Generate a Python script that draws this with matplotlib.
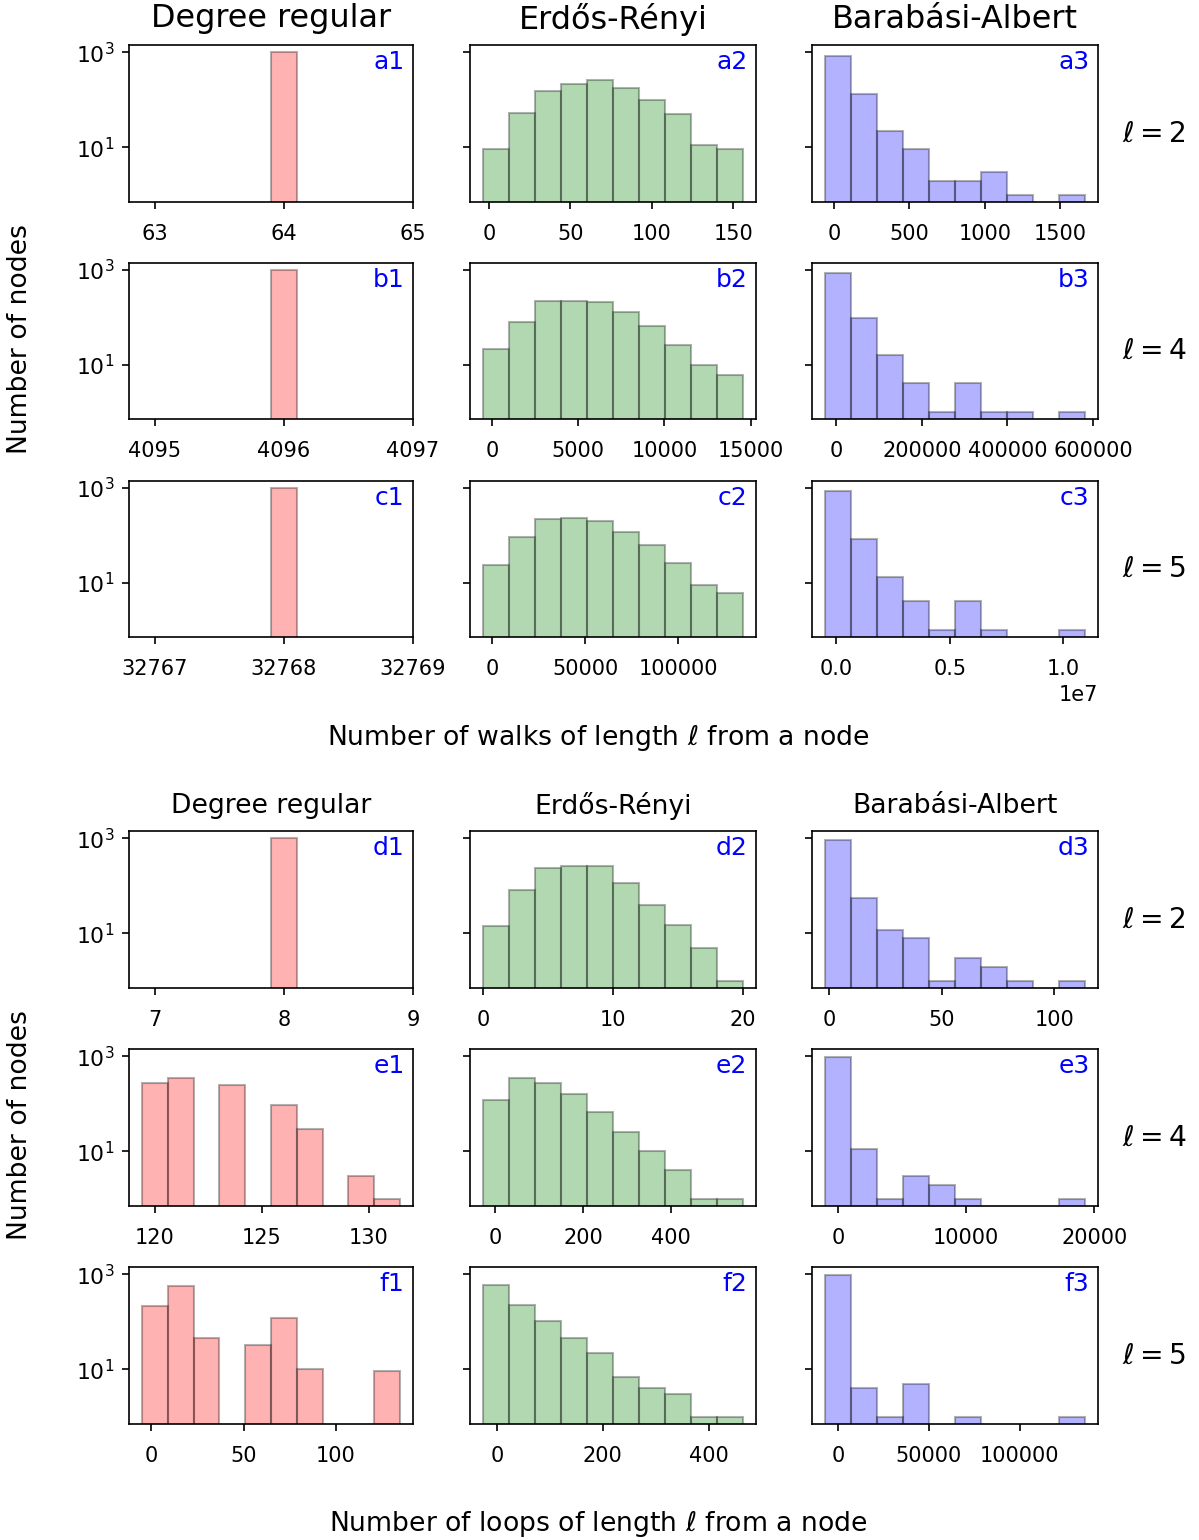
import matplotlib
matplotlib.use("Agg")
import matplotlib.pyplot as plt
from matplotlib.ticker import NullLocator, ScalarFormatter
import numpy as np

# ─── Data (counts per bin, 10 bins) ────────────────────────────────────────────
COLS = ["Degree regular", "Erdős-Rényi", "Barabási-Albert"]
ELLS = [2, 4, 5]

# degree regular, walks: every node has the same count
REG_WALKS = [64, 4096, 32768]
REG_LOOPS_L2 = 8
N_NODES = 1000

# bin ranges (first left edge, last right edge)
ER_WALK_RANGE = [(-3.7, 156), (-524, 14560), (-4690, 134660)]
ER_WALK_COUNTS = [
    [9, 52, 155, 219, 254, 174, 100, 50, 11, 9],
    [21, 78, 218, 218, 207, 133, 66, 26, 10, 6],
    [24, 93, 222, 237, 199, 120, 64, 26, 9, 6],
]
BA_WALK_RANGE = [(-60, 1664), (-25900, 581000), (-507000, 10970000)]
BA_WALK_COUNTS = [
    [849, 131, 22, 9, 2, 2, 3, 1, 0, 1],
    [870, 96, 16, 4, 1, 4, 1, 1, 0, 1],
    [880, 82, 13, 4, 1, 4, 1, 0, 0, 1],
]

REG_LOOP_RANGE = [(119.39, 131.46), (-5.0, 134.7)]
REG_LOOP_COUNTS = [
    [279, 344, 0, 248, 0, 96, 29, 0, 3, 1],
    [215, 570, 46, 0, 32, 117, 10, 0, 0, 9],
]
ER_LOOP_RANGE = [(0, 20), (-28, 565), (-26, 465)]
ER_LOOP_COUNTS = [
    [14, 80, 235, 255, 255, 112, 40, 15, 5, 1],
    [117, 344, 278, 162, 67, 25, 10, 4, 1, 1],
    [590, 230, 104, 46, 22, 7, 4, 3, 1, 1],
]
BA_LOOP_RANGE = [(-1.7, 113.6), (-1013, 19260), (-7150, 135800)]
BA_LOOP_COUNTS = [
    [921, 56, 12, 8, 1, 3, 2, 1, 0, 1],
    [980, 11, 1, 3, 2, 1, 0, 0, 0, 1],
    [975, 4, 1, 5, 0, 1, 0, 0, 0, 1],
]

# tick marks
XTICKS = {
    "a1": [63, 64, 65], "a2": [0, 50, 100, 150], "a3": [0, 500, 1000, 1500],
    "b1": [4095, 4096, 4097], "b2": [0, 5000, 10000, 15000], "b3": [0, 200000, 400000, 600000],
    "c1": [32767, 32768, 32769], "c2": [0, 50000, 100000], "c3": [0, 5e6, 1e7],
    "d1": [7, 8, 9], "d2": [0, 10, 20], "d3": [0, 50, 100],
    "e1": [120, 125, 130], "e2": [0, 200, 400], "e3": [0, 10000, 20000],
    "f1": [0, 50, 100], "f2": [0, 200, 400], "f3": [0, 50000, 100000],
}

COLORS = ["r", "g", "b"]

W, H = 1199, 1540
fig = plt.figure(figsize=(W / 150, H / 150), dpi=150)

# axes boxes in pixels
COL_X = [(129, 413), (470, 756), (812, 1098)]
ROW_Y = [(45, 202), (263, 419), (481, 637), (831, 988), (1049, 1206), (1267, 1424)]


def box(c, r):
    x0, x1 = COL_X[c]
    y0, y1 = ROW_Y[r]
    return [x0 / W, 1 - y1 / H, (x1 - x0) / W, (y1 - y0) / H]


def hist_bars(ax, rng, counts, color):
    edges = np.linspace(rng[0], rng[1], len(counts) + 1)
    ax.bar(edges[:-1], counts, width=np.diff(edges), align="edge",
           color=color, alpha=0.3, edgecolor="k", linewidth=1.0)


# assemble panels per row
panels = []
for i in range(3):
    panels.append([("single", REG_WALKS[i]), (ER_WALK_RANGE[i], ER_WALK_COUNTS[i]),
                   (BA_WALK_RANGE[i], BA_WALK_COUNTS[i])])
panels.append([("single", REG_LOOPS_L2), (ER_LOOP_RANGE[0], ER_LOOP_COUNTS[0]),
               (BA_LOOP_RANGE[0], BA_LOOP_COUNTS[0])])
for i in range(2):
    panels.append([(REG_LOOP_RANGE[i], REG_LOOP_COUNTS[i]), (ER_LOOP_RANGE[i + 1], ER_LOOP_COUNTS[i + 1]),
                   (BA_LOOP_RANGE[i + 1], BA_LOOP_COUNTS[i + 1])])

letters = "abcdef"
for r in range(6):
    for c in range(3):
        ax = fig.add_axes(box(c, r))
        spec = panels[r][c]
        if spec[0] == "single":
            v = spec[1]
            ax.bar([v], [N_NODES], width=0.2, color=COLORS[c], alpha=0.3,
                   edgecolor="k", linewidth=1.0)
            ax.set_xlim(v - 1.2, v + 1.0)
            fmt = ScalarFormatter(useOffset=False)
            ax.xaxis.set_major_formatter(fmt)
        else:
            hist_bars(ax, spec[0], spec[1], COLORS[c])
        ax.set_yscale("log")
        ax.set_ylim(10 ** -0.15, 10 ** 3.15)
        ax.set_yticks([10, 1000])
        ax.yaxis.set_minor_locator(NullLocator())
        ax.xaxis.set_minor_locator(NullLocator())
        if c > 0:
            ax.set_yticklabels([])
        tag = f"{letters[r]}{c + 1}"
        ax.set_xticks(XTICKS[tag])
        ax.tick_params(axis="x", labelsize=10, pad=7)
        ax.tick_params(axis="y", labelsize=10.5)
        ax.text(0.97, 0.97, tag, transform=ax.transAxes, ha="right", va="top",
                color="blue", fontsize=12)

# column titles
for c in range(3):
    xc = (COL_X[c][0] + COL_X[c][1]) / 2 / W
    fig.text(xc, 1 - 19 / H, COLS[c], ha="center", va="center", fontsize=15.3)
    fig.text(xc, 1 - 806 / H, COLS[c], ha="center", va="center", fontsize=12.8)

# row labels
for r in range(6):
    yc = (ROW_Y[r][0] + ROW_Y[r][1]) / 2 + 10
    fig.text(1154 / W, 1 - yc / H, rf"$\ell = {ELLS[r % 3]}$", ha="center", va="center", fontsize=13.5)

fig.text(598 / W, 1 - 737 / H, r"Number of walks of length $\ell$ from a node", ha="center", va="center", fontsize=12.8)
fig.text(598 / W, 1 - 1523 / H, r"Number of loops of length $\ell$ from a node", ha="center", va="center", fontsize=12.8)
fig.text(20 / W, 1 - 339 / H, "Number of nodes", rotation=90, ha="center", va="center", fontsize=12.8)
fig.text(20 / W, 1 - 1125 / H, "Number of nodes", rotation=90, ha="center", va="center", fontsize=12.8)

plt.savefig("out.png", dpi=150)
